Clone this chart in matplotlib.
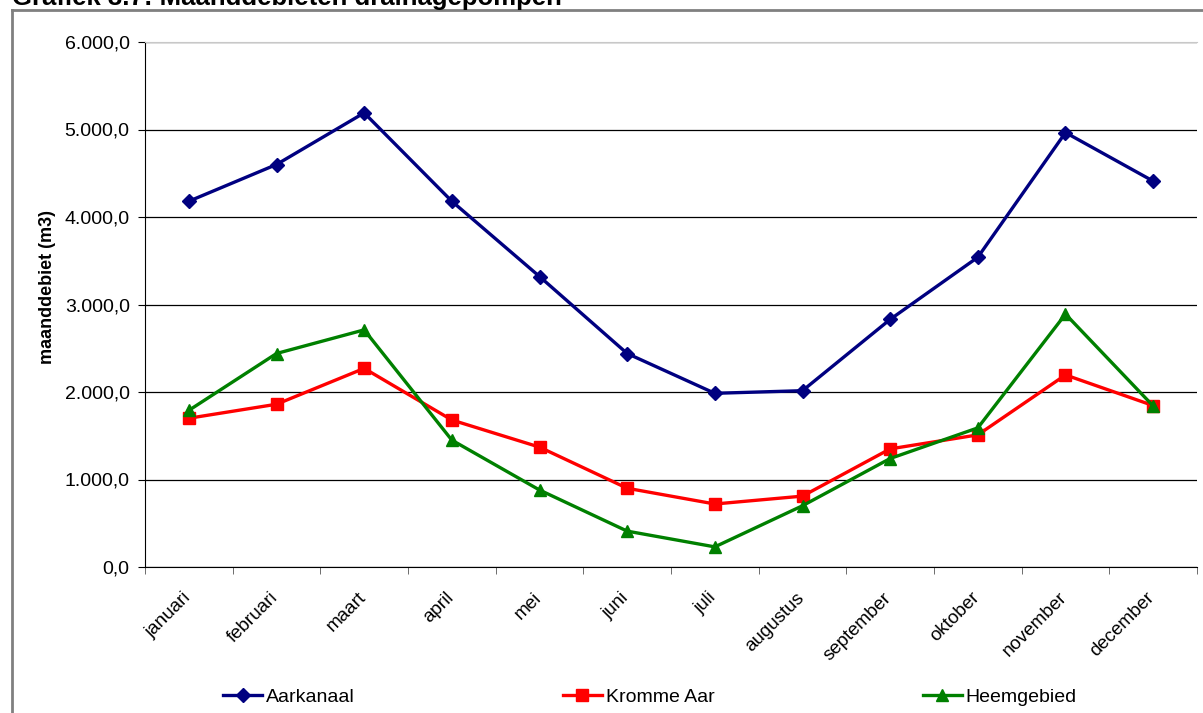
import matplotlib
matplotlib.use('Agg')
import matplotlib.pyplot as plt
import matplotlib.transforms as mtransforms
from matplotlib.lines import Line2D
from matplotlib.ticker import FuncFormatter, MultipleLocator
import numpy as np

plt.rcParams.update({
    'font.family': 'Liberation Sans',
    'font.size': 14,
})

# Monthly discharge per drainage area (m3)
maanden = ['januari', 'februari', 'maart', 'april', 'mei', 'juni', 'juli',
           'augustus', 'september', 'oktober', 'november', 'december']
aarkanaal = [4180, 4600, 5190, 4180, 3320, 2440, 1985, 2015, 2830, 3540, 4965, 4410]
kromme_aar = [1700, 1860, 2270, 1680, 1370, 900, 720, 810, 1350, 1510, 2195, 1845]
heemgebied = [1790, 2440, 2710, 1450, 880, 410, 230, 700, 1240, 1590, 2890, 1840]

fig = plt.figure(figsize=(12.03, 7.13), dpi=100)
ax = fig.add_axes([145 / 1203, 1 - 567 / 713, (1197 - 145) / 1203, (567 - 42) / 713])

x = np.arange(len(maanden))
ax.plot(x, aarkanaal, color='#000080', lw=2.4, marker='D', ms=7.5, label='Aarkanaal', zorder=3)
ax.plot(x, kromme_aar, color='#FF0000', lw=2.4, marker='s', ms=8.5, label='Kromme Aar', zorder=3)
ax.plot(x, heemgebied, color='#008000', lw=2.4, marker='^', ms=9, label='Heemgebied', zorder=4)

ax.set_xlim(-0.5, len(maanden) - 0.5)
ax.set_ylim(0, 6000)
ax.yaxis.set_major_locator(MultipleLocator(1000))
ax.yaxis.set_major_formatter(FuncFormatter(
    lambda v, p: f'{v:,.1f}'.replace(',', 'X').replace('.', ',').replace('X', '.')))
ax.grid(True, axis='y', color='black', lw=0.9)
ax.set_axisbelow(True)

ax.set_xticks(x)
ax.set_xticklabels(maanden, rotation=45, ha='right', rotation_mode='anchor')
ax.set_xticks(np.arange(-0.5, len(maanden)), minor=True)
ax.tick_params(axis='x', which='major', length=0, pad=16, labelsize=13.5)
ax.tick_params(axis='x', which='minor', length=5, color='#555555')
ax.tick_params(axis='y', length=5, labelsize=14, pad=6)

# nudge the month labels a little to the left
shift = mtransforms.ScaledTranslation(-7 / 100, 0, fig.dpi_scale_trans)
for lbl in ax.get_xticklabels():
    lbl.set_transform(lbl.get_transform() + shift)

ax.spines['top'].set_color('#c8c8c8')
ax.spines['right'].set_visible(False)
ax.spines['left'].set_color('black')
ax.spines['bottom'].set_color('black')

ax.set_ylabel('maanddebiet (m3)', fontweight='bold', fontsize=13)
ax.yaxis.set_label_coords(-0.085, 0.533)

fig.legend(loc='center', bbox_to_anchor=(650 / 1203, 1 - 697 / 713), ncol=3,
           frameon=False, columnspacing=10.7, handlelength=2.0, handletextpad=0.2,
           fontsize=14)

# outer chart frame and caption
fig.add_artist(Line2D([12 / 1203, 12 / 1203], [0, 1 - 10 / 713],
                      transform=fig.transFigure, color='#808080', lw=2))
fig.add_artist(Line2D([12 / 1203, 1], [1 - 10 / 713, 1 - 10 / 713],
                      transform=fig.transFigure, color='#808080', lw=2))
fig.text(12 / 1203, 1 - 5 / 713, 'Grafiek 3.7: Maanddebieten drainagepompen',
         fontsize=18.5, fontweight='bold', ha='left', va='baseline')

fig.savefig('out.png', dpi=100)
